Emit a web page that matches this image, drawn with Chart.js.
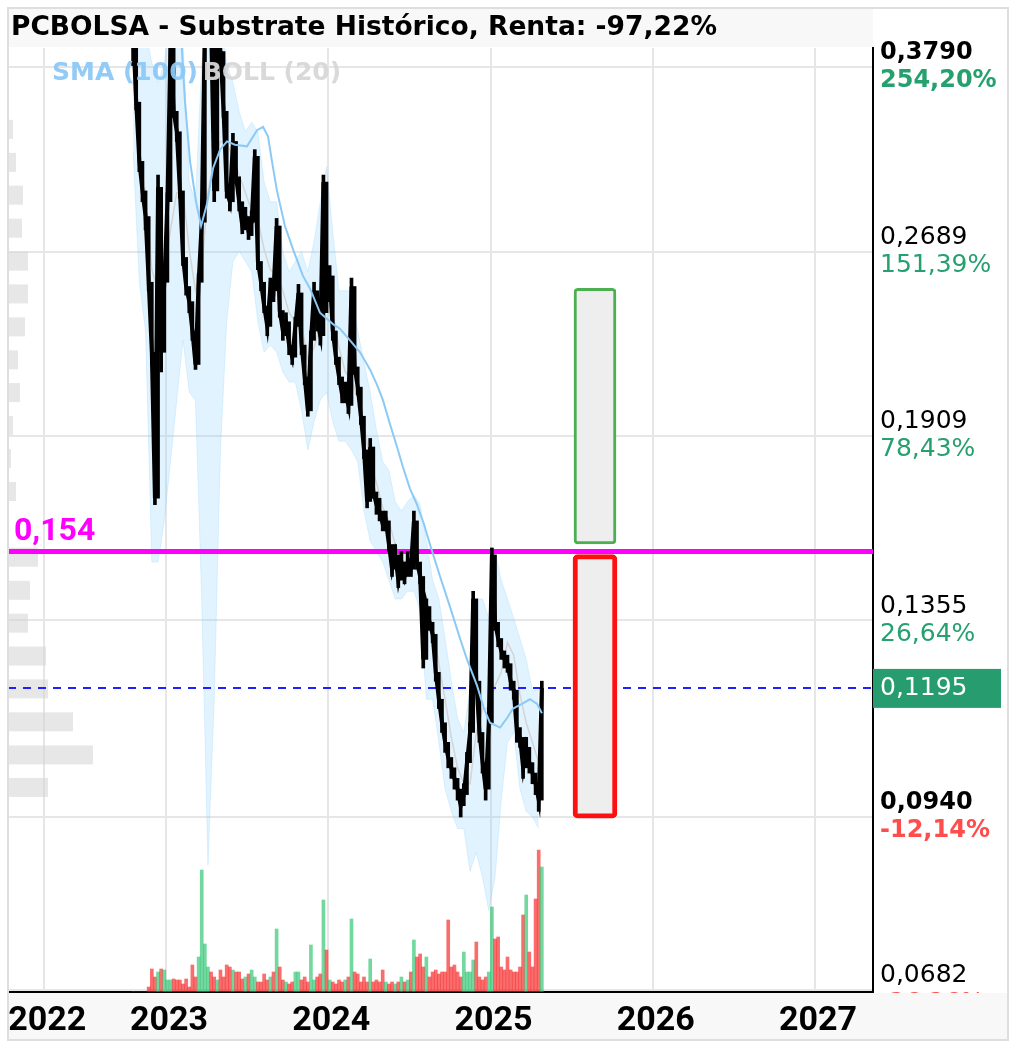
<!DOCTYPE html>
<html><head><meta charset="utf-8">
<script src="https://cdn.jsdelivr.net/npm/chart.js@4.4.1/dist/chart.umd.min.js"></script>
<style>html,body{margin:0;padding:0;background:#fff;}#wrap{width:1017px;height:1048px;}</style>
</head><body><div id="wrap"><canvas id="c" width="1017" height="1048"></canvas></div>
<script>
// ---------- DATA ----------
const START_YEAR = 2022.797;       // first weekly bar
const WEEK = 1 / 52;
const priceClose = [0.404,0.355,0.318,0.301,0.287,0.254,0.223,0.170,0.303,0.223,
 0.254,0.295,0.397,0.349,0.336,0.301,0.266,0.252,0.245,0.232,
 0.218,0.254,0.284,0.412,0.420,0.412,0.301,0.397,0.390,0.349,
 0.301,0.295,0.330,0.309,0.295,0.282,0.287,0.279,0.284,0.321,
 0.264,0.254,0.243,0.234,0.252,0.250,0.282,0.241,0.232,0.236,
 0.226,0.221,0.234,0.249,0.226,0.213,0.200,0.228,0.250,0.236,
 0.230,0.306,0.245,0.257,0.232,0.221,0.213,0.206,0.207,0.202,
 0.252,0.217,0.209,0.198,0.186,0.169,0.187,0.172,0.168,0.166,
 0.162,0.163,0.156,0.149,0.153,0.146,0.151,0.147,0.151,0.149,
 0.163,0.151,0.147,0.126,0.139,0.135,0.132,0.123,0.117,0.112,
 0.108,0.105,0.103,0.101,0.099,0.096,0.098,0.104,0.110,0.141,
 0.121,0.110,0.104,0.099,0.112,0.153,0.135,0.131,0.128,0.126,
 0.125,0.121,0.119,0.110,0.109,0.103,0.107,0.104,0.102,0.100,
 0.097,0.1195];
const priceLow = [0.380,0.350,0.312,0.295,0.280,0.250,0.218,0.168,0.170,0.215,
 0.223,0.254,0.295,0.345,0.330,0.297,0.262,0.248,0.240,0.228,
 0.216,0.218,0.254,0.284,0.400,0.400,0.295,0.301,0.380,0.345,
 0.297,0.290,0.295,0.305,0.290,0.278,0.280,0.275,0.277,0.284,
 0.260,0.250,0.240,0.230,0.234,0.245,0.250,0.238,0.228,0.230,
 0.222,0.218,0.221,0.234,0.222,0.210,0.198,0.200,0.228,0.232,
 0.226,0.230,0.240,0.245,0.228,0.218,0.210,0.203,0.203,0.199,
 0.202,0.214,0.206,0.195,0.183,0.167,0.169,0.170,0.165,0.163,
 0.160,0.160,0.154,0.147,0.149,0.144,0.146,0.145,0.147,0.147,
 0.149,0.149,0.145,0.124,0.126,0.133,0.130,0.121,0.115,0.110,
 0.106,0.103,0.101,0.099,0.097,0.094,0.096,0.098,0.104,0.110,
 0.119,0.108,0.102,0.097,0.099,0.112,0.133,0.129,0.126,0.124,
 0.123,0.119,0.117,0.108,0.107,0.101,0.103,0.102,0.100,0.098,
 0.095,0.097];
const priceHigh = [0.420,0.404,0.355,0.318,0.301,0.287,0.254,0.223,0.310,0.303,
 0.260,0.300,0.410,0.397,0.349,0.336,0.301,0.266,0.252,0.245,
 0.232,0.258,0.290,0.420,0.430,0.430,0.412,0.410,0.400,0.390,
 0.349,0.305,0.335,0.330,0.309,0.295,0.292,0.287,0.290,0.325,
 0.321,0.264,0.254,0.243,0.256,0.254,0.286,0.282,0.241,0.240,
 0.236,0.226,0.238,0.253,0.249,0.226,0.213,0.232,0.254,0.250,
 0.236,0.310,0.306,0.262,0.257,0.232,0.221,0.213,0.211,0.207,
 0.256,0.252,0.217,0.209,0.198,0.186,0.190,0.187,0.172,0.170,
 0.166,0.166,0.163,0.156,0.156,0.153,0.154,0.151,0.154,0.152,
 0.166,0.163,0.151,0.147,0.141,0.139,0.135,0.132,0.123,0.117,
 0.112,0.108,0.105,0.103,0.101,0.099,0.100,0.106,0.112,0.143,
 0.141,0.121,0.110,0.104,0.114,0.155,0.153,0.135,0.131,0.128,
 0.127,0.125,0.121,0.119,0.111,0.109,0.109,0.107,0.104,0.102,
 0.100,0.121];
const volume = [0,0,0,0,0,5,23,15,20,23,
 22,12,12,13,12,12,8,13,5,27,
 15,35,122,48,25,20,15,12,22,15,
 27,25,22,20,20,13,15,18,22,15,
 10,10,18,12,15,20,63,25,12,10,
 8,10,20,20,12,15,10,47,12,15,
 18,92,42,12,10,8,12,10,12,15,
 73,20,18,10,15,10,33,10,12,10,
 22,10,8,10,8,10,15,10,12,20,
 52,35,38,25,35,15,20,22,18,20,
 20,72,25,27,20,15,40,20,20,32,
 50,15,12,15,20,85,53,55,25,22,
 35,22,20,20,25,77,97,40,25,93,
 142,125];
// Bollinger (20) sampled every 2 weeks
const bbUpper = [0.412,0.412,0.404,0.382,0.368,0.382,0.412,0.412,0.397,0.306,
 0.295,0.382,0.412,0.412,0.412,0.382,0.368,0.349,0.336,0.342,
 0.336,0.306,0.295,0.295,0.269,0.259,0.264,0.269,0.259,0.274,
 0.295,0.315,0.279,0.250,0.250,0.250,0.232,0.219,0.207,0.193,
 0.182,0.179,0.169,0.166,0.169,0.171,0.168,0.157,0.146,0.141,
 0.131,0.121,0.113,0.110,0.119,0.141,0.141,0.136,0.154,0.146,
 0.141,0.136,0.131,0.126,0.119,0.119];
const bbLower = [0.324,0.254,0.232,0.151,0.151,0.163,0.182,0.204,0.228,0.207,
 0.204,0.141,0.086,0.117,0.186,0.236,0.264,0.269,0.264,0.259,
 0.236,0.223,0.226,0.223,0.215,0.211,0.211,0.200,0.186,0.196,
 0.204,0.207,0.196,0.189,0.189,0.186,0.182,0.166,0.157,0.154,
 0.151,0.146,0.141,0.141,0.143,0.143,0.138,0.117,0.117,0.108,
 0.099,0.095,0.092,0.092,0.085,0.088,0.084,0.079,0.084,0.097,
 0.108,0.110,0.099,0.095,0.094,0.092];
const bbMiddle = [0.37,0.32,0.30,0.26,0.25,0.26,0.28,0.30,0.30,0.27,
 0.25,0.26,0.30,0.32,0.33,0.33,0.32,0.31,0.30,0.29,
 0.285,0.27,0.26,0.258,0.25,0.24,0.236,0.235,0.22,0.225,
 0.235,0.245,0.24,0.225,0.215,0.212,0.205,0.195,0.182,0.175,
 0.167,0.163,0.156,0.152,0.150,0.152,0.150,0.14,0.134,0.125,
 0.117,0.109,0.103,0.100,0.100,0.110,0.115,0.115,0.120,0.123,
 0.130,0.127,0.118,0.112,0.108,0.104];
const smaDates = [2023.092,2023.117,2023.148,2023.185,2023.216,2023.253,2023.290,2023.333,2023.376,2023.425,
 2023.499,2023.561,2023.598,2023.629,2023.653,2023.684,2023.733,2023.783,2023.844,2023.888,
 2023.949,2024.029,2024.072,2024.134,2024.196,2024.257,2024.300,2024.337,2024.381,2024.424,
 2024.461,2024.504,2024.547,2024.590,2024.627,2024.689,2024.750,2024.812,2024.855,2024.917,
 2024.960,2024.997,2025.059,2025.102,2025.139,2025.194,2025.243,2025.287,2025.317];
const smaValues = [0.404,0.355,0.318,0.295,0.282,0.294,0.314,0.325,0.330,0.328,
 0.327,0.337,0.339,0.333,0.318,0.301,0.282,0.270,0.257,0.251,
 0.240,0.235,0.233,0.228,0.223,0.216,0.210,0.204,0.195,0.187,
 0.180,0.173,0.168,0.162,0.156,0.147,0.139,0.131,0.126,0.120,
 0.115,0.112,0.111,0.113,0.115,0.116,0.117,0.116,0.114];
const profileLevels = [0.0994,0.1056,0.1123,0.1194,0.1269,0.1349,0.1434,0.1525,0.1621,0.1723,
 0.1832,0.1948,0.2071,0.2201,0.2340,0.2488,0.2644,0.2811,0.2989,0.3177,0.3378];
const profileVolume = [40,85,65,40,38,20,22,30,0,8,3,5,12,10,17,20,20,14,15,8,5];
const yTickValues = [0.3790,0.2689,0.1909,0.1355,0.0940,0.0682];
const yTickLabels = ['0,3790','0,2689','0,1909','0,1355','0,0940','0,0682'];
const yTickPercents = ['254,20%','151,39%','78,43%','26,64%','-12,14%','-36,26%'];
const yTickBold = [true,false,false,false,true,false];
const yearTickValues = [2022.25,2023,2024,2025,2026,2027];
const yearTickLabels = ['2022','2023','2024','2025','2026','2027'];
const supportLevel = 0.154, supportLabel = '0,154';
const lastPrice = 0.1195, lastPriceLabel = '0,1195';
const targetX = 2025.644;
const targetUp = [0.1562, 0.2511];
const targetDown = [0.0938, 0.1531];
const titleText = 'PCBOLSA - Substrate Histórico, Renta: -97,22%';
const X_MIN = 2022.026, X_MAX = 2027.3575, Y_MIN = 0.0679, Y_MAX = 0.3926;

// ---------- BUILD ----------
const wk = i => START_YEAR + i * WEEK;
const pricePts = priceClose.map((v,i)=>({x:wk(i),y:v}));
const rangePts = priceClose.map((v,i)=>({x:wk(i),y:[priceLow[i],priceHigh[i]]}));
const volPts = volume.map((v,i)=>({x:wk(i),y:v}));
const volColors = volume.map((v,i)=> (i===0||priceClose[i]>=priceClose[i-1]) ? 'rgba(20,190,95,0.6)' : 'rgba(245,20,20,0.62)');
const band = arr => arr.map((v,j)=>({x:wk(2*j),y:v}));
const smaPts = smaDates.map((d,i)=>({x:d,y:smaValues[i]}));
const POS = '#26a06e', NEG = '#ff4d4d';

const decor = {
  id:'decor',
  beforeDraw(chart){const c=chart.ctx;c.save();c.fillStyle='#fff';c.fillRect(0,0,chart.width,chart.height);c.restore();},
  beforeDatasetsDraw(chart){
    const {ctx,scales:{y,xp},chartArea:a}=chart;
    ctx.save();ctx.fillStyle='rgba(212,212,212,0.55)';
    profileLevels.forEach((lv,i)=>{
      const py=y.getPixelForValue(lv);
      const w=xp.getPixelForValue(profileVolume[i])-xp.getPixelForValue(0);
      if(w>0) ctx.fillRect(a.left,py-9,w,19);
    });
    ctx.restore();
  },
  afterDraw(chart){
    const {ctx,scales:{x,y},chartArea:a}=chart;
    ctx.save();
    // title bar
    ctx.fillStyle='#f8f8f8';ctx.fillRect(8,8,a.right-8,39);
    ctx.fillStyle='#000';ctx.font='bold 26.5px "DejaVu Sans"';ctx.textBaseline='middle';ctx.textAlign='left';
    ctx.fillText(titleText,11,28);
    // legend
    ctx.font='bold 25px "DejaVu Sans"';
    ctx.fillStyle='rgba(140,200,245,0.95)';ctx.fillText('SMA (100)',52,73);
    const w1=ctx.measureText('SMA (100) ').width;
    ctx.fillStyle='rgba(215,215,215,0.95)';ctx.fillText('BOLL (20)',52+w1-4,73);
    // support label
    ctx.font='bold 32px Roboto';ctx.fillStyle='#ff00ff';
    ctx.fillText(supportLabel,14,532);
    // y labels
    yTickValues.forEach((v,i)=>{
      const py=y.getPixelForValue(v);
      ctx.fillStyle='#000';
      ctx.font=(yTickBold[i]?'bold 24px':'25px')+' "DejaVu Sans"';
      ctx.fillText(yTickLabels[i],880,py-14);
      ctx.fillStyle=yTickPercents[i].startsWith('-')?NEG:POS;
      ctx.fillText(yTickPercents[i],880,py+14);
    });
    // last price box
    const lp=y.getPixelForValue(lastPrice);
    ctx.fillStyle='#279d6f';ctx.fillRect(a.right,lp-19,128,39);
    ctx.fillStyle='#fff';ctx.font='25px "DejaVu Sans"';ctx.fillText(lastPriceLabel,880,lp+1);
    // x band
    ctx.fillStyle='#f8f8f8';ctx.fillRect(8,a.bottom+1,1000,1040-a.bottom-1);
    ctx.fillStyle='#000';ctx.font='bold 34px Roboto';ctx.textAlign='center';
    yearTickValues.forEach((v,i)=>ctx.fillText(yearTickLabels[i],x.getPixelForValue(v)+3,1021));
    // frame
    ctx.strokeStyle='#dedede';ctx.lineWidth=2;ctx.strokeRect(8,8,1000,1032);
    ctx.restore();
  }
};

new Chart(document.getElementById('c'),{
  type:'line',
  data:{datasets:[
    {type:'line',data:band(bbUpper),borderColor:'rgba(135,206,250,0.25)',borderWidth:1,pointRadius:0,fill:'+1',backgroundColor:'rgba(135,206,250,0.25)',order:10},
    {type:'line',data:band(bbLower),borderColor:'rgba(135,206,250,0.25)',borderWidth:1,pointRadius:0,fill:false,order:10},
    {type:'line',data:band(bbMiddle),borderColor:'#d4d4d4',borderWidth:1.5,pointRadius:0,fill:false,order:9},
    {type:'bar',data:volPts,yAxisID:'yv',backgroundColor:volColors,barThickness:3,grouped:false,order:20},
    {type:'line',data:[{x:X_MIN,y:supportLevel},{x:X_MAX,y:supportLevel}],borderColor:'#ff00ff',borderWidth:5,pointRadius:0,fill:false,order:6},
    {type:'line',data:[{x:X_MIN,y:lastPrice},{x:X_MAX,y:lastPrice}],borderColor:'#2020ff',borderWidth:2,borderDash:[8,7],pointRadius:0,fill:false,order:6},
    {type:'bar',data:[{x:targetX,y:targetUp}],backgroundColor:'#eeeeee',borderColor:'#4caf50',borderWidth:3,borderRadius:4,borderSkipped:false,barThickness:42,grouped:false,order:4},
    {type:'bar',data:[{x:targetX,y:targetDown}],backgroundColor:'#eeeeee',borderColor:'#ff1010',borderWidth:5,borderRadius:5,borderSkipped:false,barThickness:44,grouped:false,order:4},
    {type:'bar',data:rangePts,backgroundColor:'#000',borderWidth:0,barThickness:3,grouped:false,order:3},
    {type:'line',data:pricePts,borderColor:'#000',borderWidth:4,pointRadius:0,fill:false,order:2},
    {type:'line',data:smaPts,borderColor:'#8ccaf5',borderWidth:2,pointRadius:0,fill:false,order:1}
  ]},
  options:{
    responsive:false,animation:false,devicePixelRatio:1,
    layout:{padding:{left:8,top:48,right:144,bottom:56}},
    plugins:{legend:{display:false},tooltip:{enabled:false}},
    scales:{
      x:{type:'linear',offset:false,min:X_MIN,max:X_MAX,grid:{color:'#e6e6e6',lineWidth:2,drawTicks:false,offset:false},border:{display:true,color:'#000',width:2},ticks:{display:false},
         afterBuildTicks:s=>{s.ticks=yearTickValues.map(v=>({value:v}));}},
      y:{type:'logarithmic',position:'right',min:Y_MIN,max:Y_MAX,grid:{color:'#e6e6e6',lineWidth:2,drawTicks:false},border:{display:true,color:'#000',width:2},ticks:{display:false},
         afterBuildTicks:s=>{s.ticks=yTickValues.map(v=>({value:v}));}},
      yv:{type:'linear',display:false,min:0,max:944},
      xp:{type:'linear',display:false,offset:false,min:0,max:865}
    }
  },
  plugins:[decor]
});
</script></body></html>
